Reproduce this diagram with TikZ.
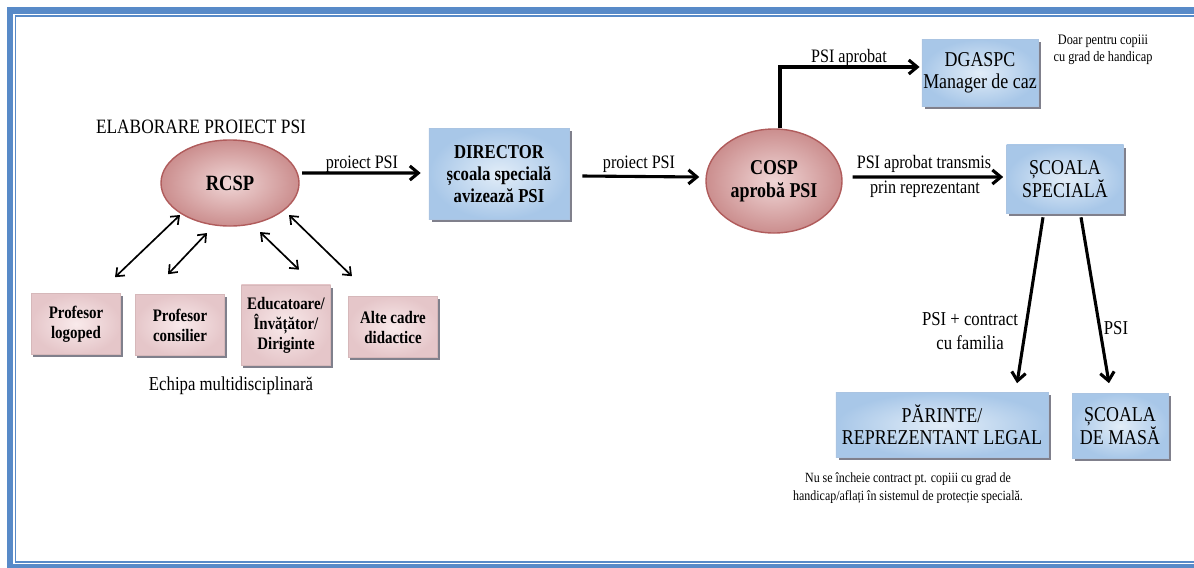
\documentclass[tikz,border=0pt]{standalone}
\usepackage{fontspec}
\setmainfont{Liberation Serif}[FakeStretch=0.85]
\usetikzlibrary{shapes,arrows.meta,shadows}

\definecolor{framecol}{RGB}{88,138,200}
\definecolor{bluein}{RGB}{226,237,248}
\definecolor{blueout}{RGB}{168,199,232}
\definecolor{blueline}{RGB}{170,196,226}
\definecolor{pinkin}{RGB}{249,234,235}
\definecolor{pinkout}{RGB}{229,198,201}
\definecolor{pinkline}{RGB}{214,184,186}
\definecolor{ovalin}{RGB}{240,214,214}
\definecolor{ovalout}{RGB}{203,142,142}
\definecolor{ovalline}{RGB}{176,92,92}
\definecolor{shadowcol}{RGB}{128,128,140}

\tikzset{>={Straight Barb[length=6pt,width=10pt]}}
\tikzstyle{bluebox} = [draw=blueline, inner color=bluein, outer color=blueout, rectangle, inner sep=1pt, align=center, drop shadow={shadow xshift=0.07cm, shadow yshift=-0.07cm, fill=shadowcol, opacity=1}, font=\fontsize{15}{15.6}\selectfont]
\tikzstyle{pinkbox} = [draw=pinkline, inner color=pinkin, outer color=pinkout, rectangle, inner sep=1pt, align=center, minimum width=2.225cm, minimum height=1.525cm, drop shadow={shadow xshift=0.05cm, shadow yshift=-0.07cm, fill=shadowcol, opacity=1}, font=\bfseries\fontsize{12.5}{14.2}\selectfont]
\tikzstyle{oval} = [ellipse, draw=ovalline, line width=1pt, inner color=ovalin, outer color=ovalout, inner sep=0pt, align=center]
\tikzstyle{bigarr} = [->, line width=2.2pt]
\tikzstyle{twoway} = [<->, line width=1.2pt, >={Straight Barb[length=5pt,width=8pt]}]
\tikzstyle{lbl} = [align=center, inner sep=1pt, font=\fontsize{13.5}{17.5}\selectfont]
\tikzstyle{note} = [align=center, inner sep=1pt, font=\fontsize{10.3}{12.3}\selectfont]

\begin{document}
\begin{tikzpicture}[x=0.025cm, y=-0.025cm]

\useasboundingbox (0,0) rectangle (1194,567);

% Frame
\draw[framecol, line width=4.3pt] (10,10.5) rectangle (1260,567.5);
\draw[framecol, line width=1.4pt] (15.5,16) rectangle (1260,562);

% Diagram nodes
\node[lbl, font=\fontsize{14.5}{17}\selectfont] (title) at (201,127) {ELABORARE PROIECT PSI};
\node[oval, minimum width=3.45cm, minimum height=2.15cm, font=\bfseries\fontsize{15.5}{17}\selectfont] (rcsp) at (230,183) {RCSP};
\node[bluebox, minimum width=3.5cm, minimum height=2.275cm, font=\bfseries\fontsize{14}{15.6}\selectfont] (director) at (499,174) {DIRECTOR\\școala specială\\avizează PSI};
\node[oval, minimum width=3.4cm, minimum height=2.6cm, font=\bfseries\fontsize{15}{16.5}\selectfont] (cosp) at (774,181) {COSP\\aprobă PSI};
\node[bluebox, minimum width=2.9cm, minimum height=1.675cm] (dgaspc) at (980,73) {DGASPC\\Manager de caz};
\node[note] (doar) at (1103,50) {Doar pentru copiii\\cu grad de handicap};
\node[bluebox, minimum width=2.925cm, minimum height=1.7cm] (scoalasp) at (1065,179) {ȘCOALA\\SPECIALĂ};
\node[bluebox, minimum width=5.3cm, minimum height=1.625cm] (parinte) at (942,425) {PĂRINTE/\\REPREZENTANT LEGAL};
\node[bluebox, minimum width=2.4cm, minimum height=1.625cm] (masa) at (1120,426) {ȘCOALA\\DE MASĂ};
\node[note, font=\fontsize{10}{12.8}\selectfont] (nucontract) at (908,488) {Nu se încheie contract pt. copiii cu grad de\\handicap/aflați în sistemul de protecție specială.};

\node[pinkbox] (logoped) at (76,324) {Profesor\\logoped};
\node[pinkbox] (consilier) at (180,325) {Profesor\\consilier};
\node[pinkbox, minimum height=2cm] (educ) at (286,325) {Educatoare/\\Învățător/\\Diriginte};
\node[pinkbox] (alte) at (393,327) {Alte cadre\\didactice};
\node[lbl, font=\fontsize{14}{17}\selectfont] (echipa) at (231,386) {Echipa multidisciplinară};

% Draw connectors
\draw[bigarr] ([xshift=1.8cm,yshift=0.25cm]rcsp.center) -- ([xshift=-0.2cm,yshift=0.025cm]director.west);
\node[lbl] (lblrd) at (362,164) {proiect PSI};
\draw[bigarr] ([xshift=0.325cm,yshift=-0.05cm]director.east) -- ([xshift=-0.15cm,yshift=0.1cm]cosp.west);
\node[lbl] (lbldc) at (639,164) {proiect PSI};
\draw[bigarr] ([xshift=0.15cm]cosp.north) |- ([xshift=-0.05cm,yshift=0.15cm]dgaspc.west);
\node[lbl] (lblcd) at (849,58) {PSI aprobat};
\draw[bigarr] ([xshift=0.25cm,yshift=0.1cm]cosp.east) -- ([xshift=-0.075cm,yshift=0.05cm]scoalasp.west);
\node[lbl] (lblcs1) at (924,164) {PSI aprobat transmis};
\node[lbl] (lblcs2) at (925,189) {prin reprezentant};
\draw[bigarr] ([xshift=-0.55cm,yshift=-0.1cm]scoalasp.south) -- ([xshift=1.875cm,yshift=0.225cm]parinte.north);
\node[lbl, font=\fontsize{14}{17.5}\selectfont] (lblsp) at (970,331) {PSI + contract\\cu familia};
\draw[bigarr] ([xshift=0.4cm,yshift=-0.1cm]scoalasp.south) -- ([xshift=-0.275cm,yshift=0.25cm]masa.north);
\node[lbl, font=\fontsize{14}{17.5}\selectfont] (lblsm) at (1116,328) {PSI};

\draw[twoway] ([xshift=-1.25cm,yshift=-0.8cm]rcsp.center) -- ([xshift=0.975cm,yshift=0.4cm]logoped.north);
\draw[twoway] ([xshift=-0.575cm,yshift=-1.25cm]rcsp.center) -- ([xshift=-0.3cm,yshift=0.5cm]consilier.north);
\draw[twoway] ([xshift=0.75cm,yshift=-1.225cm]rcsp.center) -- ([xshift=0.325cm,yshift=0.375cm]educ.north);
\draw[twoway] ([xshift=1.475cm,yshift=-0.8cm]rcsp.center) -- ([xshift=-1.025cm,yshift=0.5cm]alte.north);

\end{tikzpicture}
\end{document}
